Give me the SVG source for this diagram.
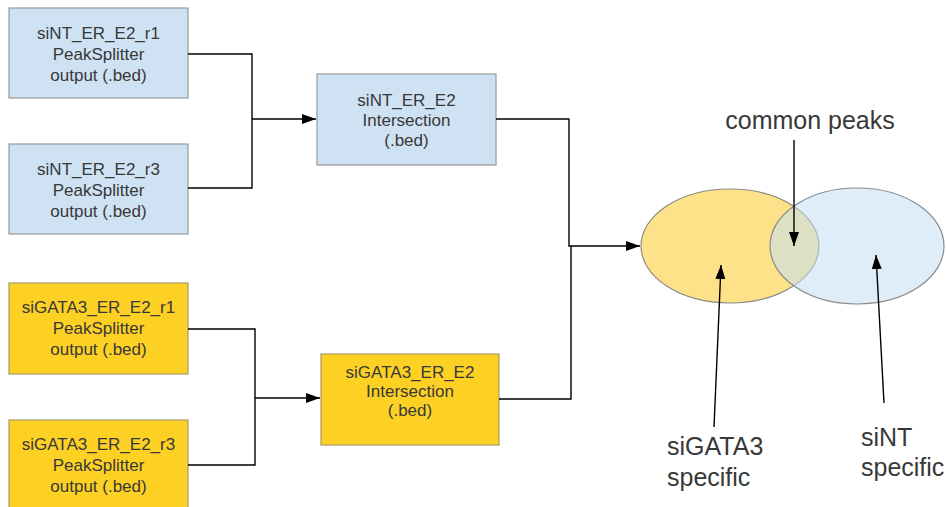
<svg xmlns="http://www.w3.org/2000/svg" width="946" height="507" viewBox="0 0 946 507">
<defs>
<marker id="ah" viewBox="0 0 14 10" refX="14" refY="5" markerWidth="14" markerHeight="10" markerUnits="userSpaceOnUse" orient="auto">
<path d="M0,0 L14,5 L0,10 Z" fill="#000"/>
</marker>
<style>
.blue{fill:#cfe2f3;stroke:#9a9a9a;stroke-width:1.2}
.gold{fill:#fdd024;stroke:#a89a6a;stroke-width:1.2}
.t{font-family:"Liberation Sans",Arial,sans-serif;font-size:17px;fill:#383838;text-anchor:middle}
.big{font-family:"Liberation Sans",Arial,sans-serif;font-size:25px;fill:#383838}
.c{fill:none;stroke:#000;stroke-width:1.4}
</style>
</defs>
<rect width="946" height="507" fill="#fff"/>
<g id="siNT_r1"><rect class="blue" x="9" y="8" width="179" height="90"/>
<text class="t" x="98.5" y="39">siNT_ER_E2_r1</text><text class="t" x="98.5" y="60">PeakSplitter</text><text class="t" x="98.5" y="81">output (.bed)</text></g>
<g id="siNT_r3"><rect class="blue" x="9" y="144" width="179" height="90"/>
<text class="t" x="98.5" y="175">siNT_ER_E2_r3</text><text class="t" x="98.5" y="196">PeakSplitter</text><text class="t" x="98.5" y="217">output (.bed)</text></g>
<g id="siGATA3_r1"><rect class="gold" x="9" y="283" width="179" height="91"/>
<text class="t" x="98.5" y="313">siGATA3_ER_E2_r1</text><text class="t" x="98.5" y="334">PeakSplitter</text><text class="t" x="98.5" y="355">output (.bed)</text></g>
<g id="siGATA3_r3"><rect class="gold" x="9" y="420" width="179" height="90"/>
<text class="t" x="98.5" y="450">siGATA3_ER_E2_r3</text><text class="t" x="98.5" y="471">PeakSplitter</text><text class="t" x="98.5" y="492">output (.bed)</text></g>
<g id="siNT_int"><rect class="blue" x="317" y="74" width="179" height="91"/>
<text class="t" x="406.5" y="106">siNT_ER_E2</text><text class="t" x="406.5" y="126">Intersection</text><text class="t" x="406.5" y="146">(.bed)</text></g>
<g id="siGATA3_int"><rect class="gold" x="321" y="354" width="178" height="91"/>
<text class="t" x="410" y="378">siGATA3_ER_E2</text><text class="t" x="410" y="397">Intersection</text><text class="t" x="410" y="416">(.bed)</text></g>
<g id="venn">
<ellipse cx="730" cy="246" rx="89" ry="57" fill="#fde28a" stroke="#8a8a80" stroke-width="1.2"/>
<ellipse cx="857" cy="246" rx="87" ry="58" fill="#c3def3" fill-opacity="0.55" stroke="#8a8a8a" stroke-width="1.2"/>
</g>
<g id="labels">
<text class="big" x="810" y="129" text-anchor="middle">common peaks</text>
<text class="big" x="667" y="455">siGATA3</text>
<text class="big" x="667" y="486">specific</text>
<text class="big" x="861" y="446">siNT</text>
<text class="big" x="861" y="476">specific</text>
</g>
<g id="connectors">
<path class="c" d="M188,54 H252 V188 H188"/>
<path class="c" d="M252,119 H316" marker-end="url(#ah)"/>
<path class="c" d="M188,329 H255 V465 H188"/>
<path class="c" d="M255,398 H320" marker-end="url(#ah)"/>
<path class="c" d="M496,119 H569 V246 H640" marker-end="url(#ah)"/>
<path class="c" d="M499,399 H571 V246"/>
<path class="c" d="M794,140 V246" marker-end="url(#ah)"/>
<path class="c" d="M714,427 L721,265" marker-end="url(#ah)"/>
<path class="c" d="M884,403 L876,255" marker-end="url(#ah)"/>
</g>
</svg>
